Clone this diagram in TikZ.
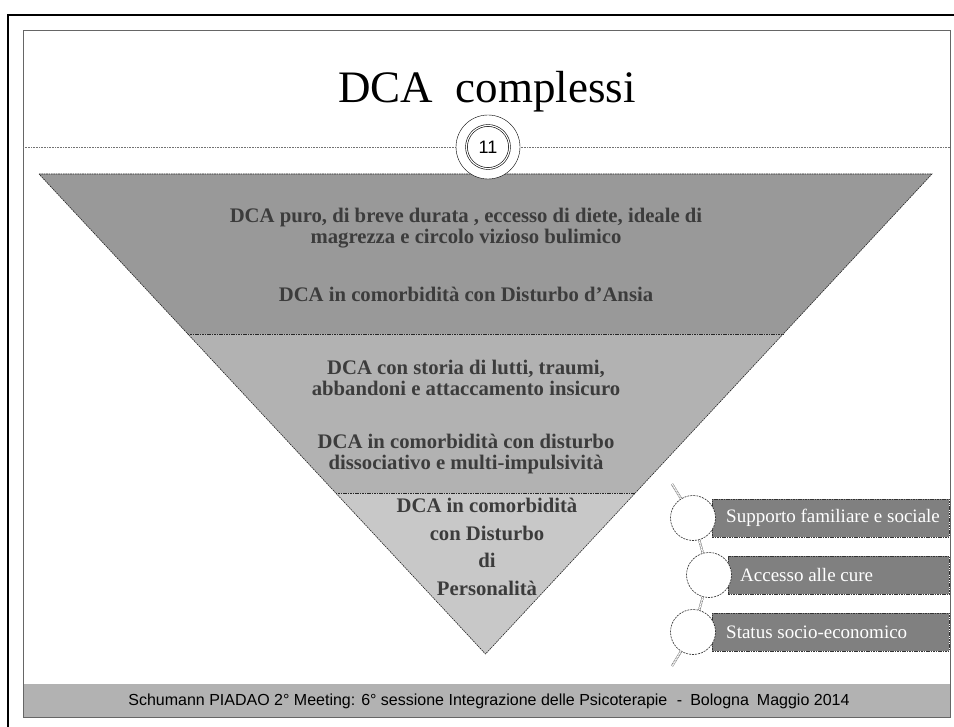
\documentclass[tikz,border=0pt]{standalone}
\usepackage{fontspec}
\setmainfont{Liberation Serif}
\newfontfamily\footfont{Liberation Sans}
\usetikzlibrary{positioning,calc}
\definecolor{bandA}{HTML}{999999}
\definecolor{bandB}{HTML}{B2B2B2}
\definecolor{bandC}{HTML}{C8C8C8}
\definecolor{bandtext}{HTML}{3C3C3C}
\definecolor{listgray}{HTML}{808080}
\definecolor{footgray}{HTML}{B2B2B2}
\tikzset{band text/.style={align=center,text=bandtext,font=\fontsize{20.7}{20.5}\selectfont\bfseries,inner sep=0pt},
         band edge/.style={draw=black!85,line width=0.6pt,dash pattern=on 1.6pt off 0.8pt},
         list box/.style={rectangle,draw=black!80,fill=listgray,line width=0.6pt,dash pattern=on 1.6pt off 0.8pt,minimum height=38pt,inner sep=0pt,anchor=west},
         list circle/.style={circle,draw=black!85,fill=white,line width=0.6pt,dash pattern=on 2pt off 1pt,minimum size=45pt,inner sep=0pt},
         list label/.style={text=white,font=\fontsize{19}{20}\selectfont,inner sep=0pt,anchor=west},
         chain link/.style={draw=black!70,double=white,double distance=1.4pt,line width=0.45pt,dash pattern=on 1.2pt off 0.6pt}
}
\begin{document}
\begin{tikzpicture}[x=1pt,y=-1pt]
\useasboundingbox (0,0) rectangle (954,727);
\draw[line width=2.4pt] (8,760) -- (8,15) -- (980,15);
\fill[footgray] (23,684) rectangle (950,717);
\draw[black!60,line width=0.7pt] (23,30) rectangle (950,717);
\draw[black!55,dash pattern=on 1pt off 0.6pt,line width=0.6pt] (23,147) -- (950,147);
\node[anchor=base,font=\fontsize{45}{50}\selectfont] (title) at (487,103) {DCA\hspace{0.5em}complessi};

\coordinate (tl) at (39,174);
\coordinate (tr) at (932,174);
\coordinate (ap) at (485.5,654);
\coordinate (l1) at ($(tl)!0.3333!(ap)$);
\coordinate (r1) at ($(tr)!0.3333!(ap)$);
\coordinate (l2) at ($(tl)!0.6646!(ap)$);
\coordinate (r2) at ($(tr)!0.6646!(ap)$);
\fill[bandA] (tl) -- (tr) -- (r1) -- (l1) -- cycle;
\fill[bandB] (l1) -- (r1) -- (r2) -- (l2) -- cycle;
\fill[bandC] (l2) -- (r2) -- (ap) -- cycle;
\draw[band edge] (tl) -- (tr) -- (ap) -- cycle;
\draw[band edge] (l1) -- (r1);
\draw[band edge] (l2) -- (r2);

\node[band text] (b1) at (466,228) {DCA puro, di breve durata , eccesso di diete, ideale di\\magrezza e circolo vizioso bulimico};
\node[band text] (b2) at (466,294) {DCA in comorbidità con Disturbo d’Ansia};
\node[band text] (b3) at (466,378) {DCA con storia di lutti, traumi,\\abbandoni e attaccamento insicuro};
\node[band text] (b4) at (466,454) {DCA in comorbidità con disturbo\\dissociativo e multi-impulsività};
\node[band text,font=\fontsize{20.7}{27.7}\selectfont\bfseries] (b5) at (487,547) {DCA in comorbidità\\con Disturbo\\di\\Personalità};

\node[circle,draw,fill=white,line width=0.4pt,minimum size=64pt,inner sep=0pt] (badge) at (488,147) {};
\node[circle,draw,double,double distance=1.2pt,line width=0.6pt,minimum size=43pt,inner sep=0pt,font=\footfont\fontsize{18}{18}\selectfont] (num) at (badge) {11};

\node[list box,minimum width=237pt] (s1) at (712,518) {};
\node[list box,minimum width=221pt] (s2) at (728,575) {};
\node[list box,minimum width=237pt] (s3) at (712,632) {};
\node[list circle] (c1) at (693,518) {};
\node[list circle] (c2) at (709,575) {};
\node[list circle] (c3) at (693,632) {};
\node[list label] (t1) at (726,518) {Supporto familiare e sociale};
\node[list label] (t2) at (740,575) {Accesso alle cure};
\node[list label] (t3) at (726,632) {Status socio-economico};
\coordinate (ctop) at (672,484);
\coordinate (cbot) at (672,666);
\draw[chain link] (ctop) -- (c1);
\draw[chain link] (c1) -- (c2);
\draw[chain link] (c2) -- (c3);
\draw[chain link] (c3) -- (cbot);

\node[font=\footfont\fontsize{16}{16}\selectfont] (foot) at (489,701) {Schumann PIADAO 2° Meeting: 6° sessione Integrazione delle Psicoterapie\hspace{0.6em}-\hspace{0.5em}Bologna\hspace{0.5em}Maggio 2014};
\end{tikzpicture}
\end{document}
